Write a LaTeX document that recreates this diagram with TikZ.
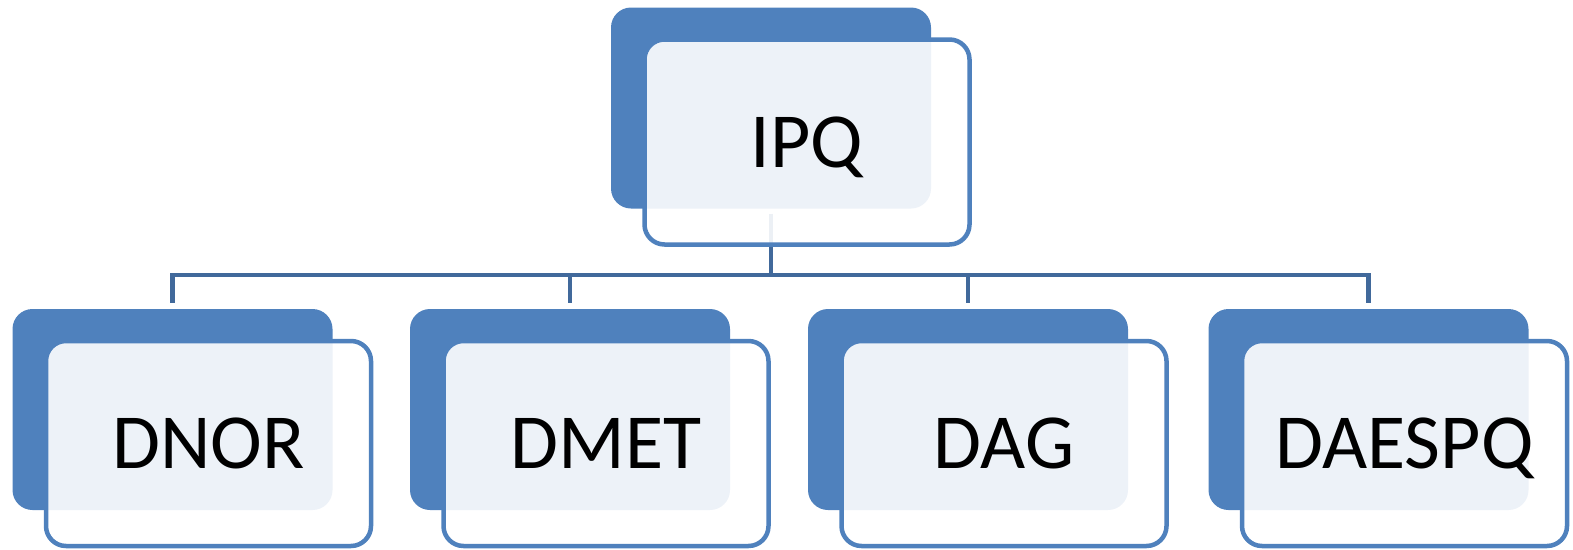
\documentclass[tikz,border=0pt]{standalone}
\usepackage{fontspec}
\setmainfont{Carlito}
\usepackage{xcolor}
\usepackage{tikz}

\definecolor{boxblue}{HTML}{4F81BD}
\definecolor{linkblue}{HTML}{41699B}

\begin{document}
\begin{tikzpicture}[x=1pt, y=-1pt,
        back/.style={rectangle, rounded corners=20pt, fill=boxblue, inner sep=0pt,
            minimum width=320pt, minimum height=201pt},
        front/.style={rectangle, rounded corners=20pt, draw=boxblue, line width=4.5pt,
            fill=white, fill opacity=0.9, text opacity=1, inner sep=0pt,
            minimum width=325pt, minimum height=205pt, text height=50pt, text depth=0pt,
            font=\fontsize{78}{90}\selectfont},
        link/.style={draw=linkblue, line width=4.5pt}]
        \useasboundingbox (0,0) rectangle (1573,549);

        \node[back] (ipqback) at (771, 108) {};
        \foreach \name/\x in {dnor/172.5, dmet/570, dag/968, daespq/1368.5}
            \node[back] (\name-back) at (\x, 409.5) {};

        \coordinate (bus) at (771, 275);
        \draw[link, shorten <=5pt] (ipqback.south) -- (bus);
        \foreach \name in {dnor, dmet, dag, daespq}
            \draw[link, shorten >=6pt] (bus) -| (\name-back.north);

        \node[front] (ipq) at ([shift={(36,34)}]ipqback.center) {IPQ};
        \foreach \name/\txt in {dnor/DNOR, dmet/DMET, dag/DAG, daespq/DAESPQ}
            \node[front] (\name) at ([shift={(36,34)}]\name-back.center) {\txt};
    \end{tikzpicture}
\end{document}
